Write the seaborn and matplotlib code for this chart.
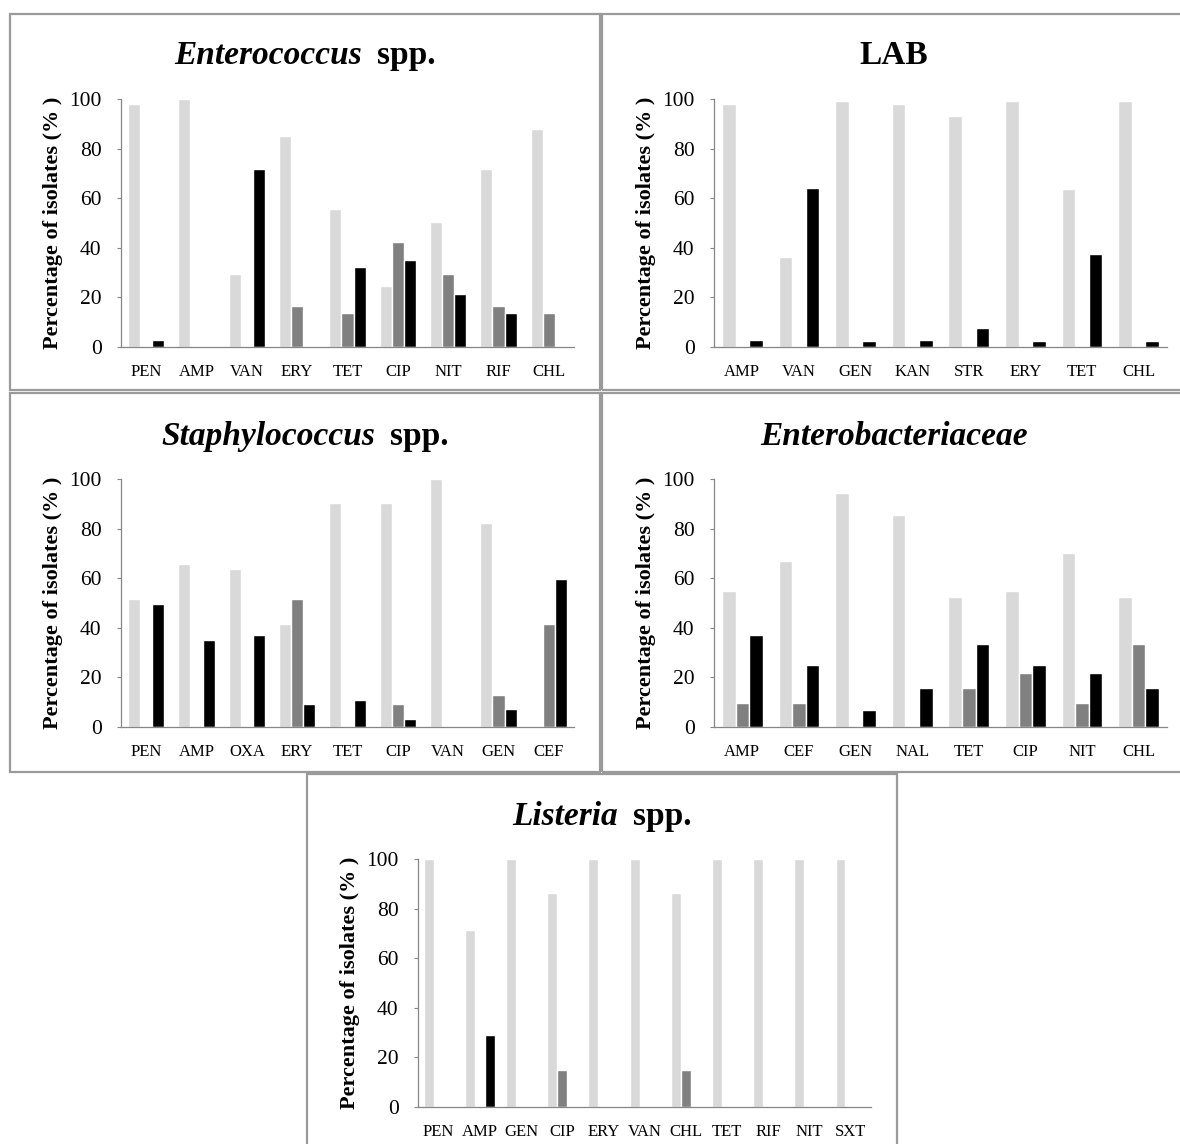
import numpy as np
import pandas as pd
import seaborn as sns
import matplotlib
matplotlib.use("Agg")
import matplotlib.pyplot as plt
from matplotlib.patches import Rectangle

# ---- data (percent of isolates: susceptible / intermediate / resistant) ----
entero_drugs = ["PEN", "AMP", "VAN", "ERY", "TET", "CIP", "NIT", "RIF", "CHL"]
entero_s = [97.8, 100, 29.6, 85.1, 55.6, 24.5, 50.5, 71.6, 87.8]
entero_i = [0, 0, 0, 16.4, 13.7, 42.4, 29.6, 16.4, 13.7]
entero_r = [3.0, 0, 71.6, 0, 32.3, 35.0, 21.5, 13.7, 0]

lab_drugs = ["AMP", "VAN", "GEN", "KAN", "STR", "ERY", "TET", "CHL"]
lab_s = [97.8, 36.3, 99.2, 97.8, 93.1, 99.2, 63.7, 99.2]
lab_i = [0, 0, 0, 0, 0, 0, 0, 0]
lab_r = [3.0, 64.2, 2.3, 3.0, 7.7, 2.3, 37.7, 2.3]

staph_drugs = ["PEN", "AMP", "OXA", "ERY", "TET", "CIP", "VAN", "GEN", "CEF"]
staph_s = [51.7, 65.9, 63.8, 41.7, 90.5, 90.5, 100, 82.4, 0]
staph_i = [0, 0, 0, 51.7, 0, 9.1, 0, 13.0, 41.7]
staph_r = [49.7, 35.2, 37.2, 9.1, 11.0, 3.2, 0, 7.1, 59.8]

enterob_drugs = ["AMP", "CEF", "GEN", "NAL", "TET", "CIP", "NIT", "CHL"]
enterob_s = [55.0, 66.9, 94.4, 85.6, 52.4, 55.0, 70.3, 52.4]
enterob_i = [9.8, 9.8, 0, 0, 15.6, 21.6, 9.8, 33.6]
enterob_r = [37.0, 25.0, 7.0, 15.6, 33.6, 25.0, 21.6, 15.6]

list_drugs = ["PEN", "AMP", "GEN", "CIP", "ERY", "VAN", "CHL", "TET", "RIF", "NIT", "SXT"]
list_s = [100, 71.5, 100, 86.3, 100, 100, 86.3, 100, 100, 100, 100]
list_i = [0, 0, 0, 14.9, 0, 0, 14.9, 0, 0, 0, 0]
list_r = [0, 28.9, 0, 0, 0, 0, 0, 0, 0, 0, 0]

status = ["S", "I", "R"]
colors = ["#d9d9d9", "#808080", "#000000"]

W, H = 1180, 1144
sns.set_style("white")
plt.rcParams["font.family"] = ["Liberation Serif", "DejaVu Serif"]
plt.rcParams["text.color"] = "black"
plt.rcParams["axes.labelcolor"] = "black"

fig = plt.figure(figsize=(W / 100, H / 100), dpi=100)

# panel frames (pixel boxes: x0, y0, x1, y1)
frames = [(10, 14, 600, 390), (602, 14, 1186, 390),
          (10, 393, 600, 772), (602, 393, 1186, 772),
          (307, 774, 897, 1150)]
for x0, y0, x1, y1 in frames:
    fig.patches.append(Rectangle((x0 / W, 1 - y1 / H), (x1 - x0) / W, (y1 - y0) / H,
                                 transform=fig.transFigure, fill=False,
                                 edgecolor="#9a9a9a", linewidth=1.6))


def long_frame(drugs, s, i, r):
    rows = []
    for lst, st in zip([s, i, r], status):
        for d, v in zip(drugs, lst):
            rows.append({"drug": d, "status": st, "pct": v})
    return pd.DataFrame(rows)


def draw_panel(px, drugs, s, i, r):
    left, right, top, bottom = px
    ax = fig.add_axes([left / W, 1 - bottom / H, (right - left) / W, (bottom - top) / H])
    df = long_frame(drugs, s, i, r)
    sns.barplot(data=df, x="drug", y="pct", hue="status", order=drugs,
                hue_order=status, palette=colors, width=0.72, gap=0,
                saturation=1, errorbar=None, legend=False, ax=ax)
    n = len(drugs)
    ax.set_xlim(-0.5, n - 0.5)
    ax.set_ylim(0, 100)
    ax.set_yticks(range(0, 101, 20))
    ax.set_xticks(np.arange(-0.5, n, 1.0), minor=True)
    ax.tick_params(axis="x", which="major", length=0, pad=12, labelsize=12,
                   labelcolor="black")
    ax.tick_params(axis="x", which="minor", length=4, width=0.8, color="#868686", direction="out")
    ax.tick_params(axis="y", length=3, width=0.8, color="#868686", direction="out",
                   pad=11, labelsize=15.5, left=True, labelcolor="black")
    for side in ["top", "right"]:
        ax.spines[side].set_visible(False)
    for side in ["left", "bottom"]:
        ax.spines[side].set_color("#868686")
        ax.spines[side].set_linewidth(0.9)
    ax.set_xlabel("")
    ax.set_ylabel("Percentage of isolates (% )", fontsize=16, fontweight="bold",
                  color="black")
    ax.yaxis.set_label_coords(-0.128, 0.5)
    return ax


def panel_title(cx, base_y, italic_part, plain_part, size=24):
    r = fig.canvas.get_renderer()
    parts = []
    if italic_part:
        parts.append(fig.text(0, 1 - base_y / H, italic_part, fontsize=size, color="black",
                              fontweight="bold", fontstyle="italic", va="baseline"))
    if plain_part:
        parts.append(fig.text(0, 1 - base_y / H, plain_part, fontsize=size, color="black",
                              fontweight="bold", va="baseline"))
    gap = 0.45 * size * 100 / 72 if len(parts) == 2 else 0
    widths = [t.get_window_extent(r).width for t in parts]
    total = sum(widths) + gap
    x = cx - total / 2
    for t, w in zip(parts, widths):
        t.set_x(x / W)
        x += w + gap


draw_panel((121, 574, 99, 347), entero_drugs, entero_s, entero_i, entero_r)
draw_panel((714, 1167, 99, 347), lab_drugs, lab_s, lab_i, lab_r)
draw_panel((121, 574, 479, 727), staph_drugs, staph_s, staph_i, staph_r)
draw_panel((714, 1167, 479, 727), enterob_drugs, enterob_s, enterob_i, enterob_r)
draw_panel((418, 871, 859, 1107), list_drugs, list_s, list_i, list_r)

panel_title(305, 64, "Enterococcus", "spp.")
panel_title(894, 64, None, "LAB")
panel_title(305, 445, "Staphylococcus", "spp.")
panel_title(894, 445, "Enterobacteriaceae", None)
panel_title(602, 825, "Listeria", "spp.")

fig.savefig("out.png", dpi=100)
